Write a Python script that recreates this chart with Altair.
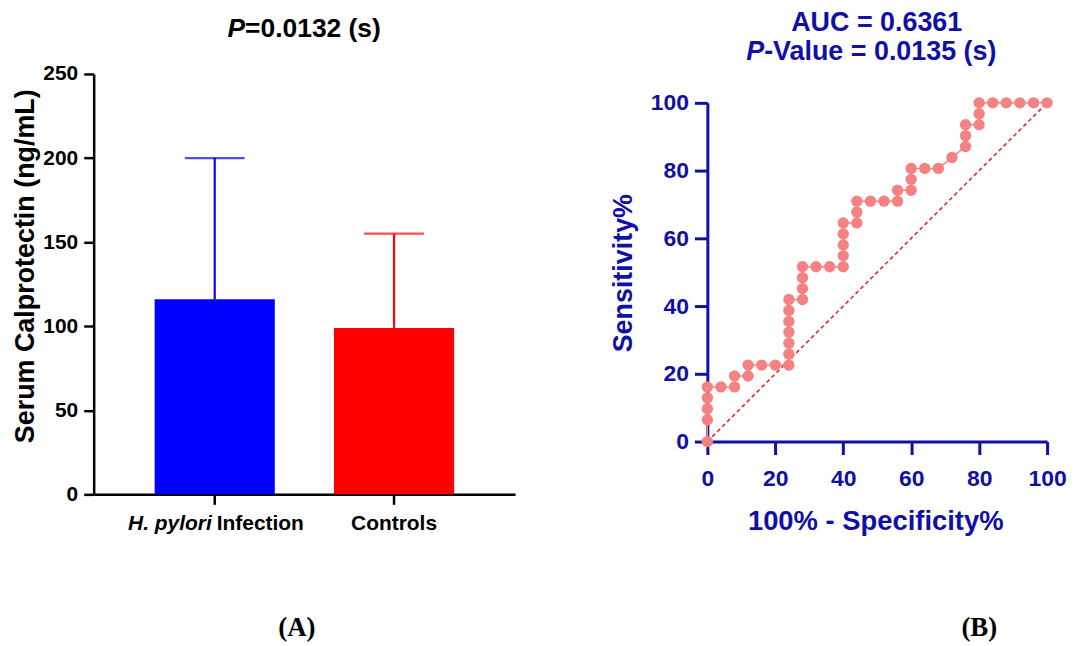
import altair as alt
import pandas as pd

# ---------------- Panel A data ----------------
groups = ["H. pylori Infection", "Controls"]
means = [116, 99]
upper = [200, 155]          # mean + SD (top of error bar)
bar_colors = ["#0000FF", "#FF0000"]
label_italic = ["H. pylori", ""]
label_roman = ["Infection", "Controls"]
y_ticks_a = [0, 50, 100, 150, 200, 250]

# ---------------- Panel B (ROC) data ----------------
fpr = [0, 0, 0, 0, 0, 4, 8, 8, 12, 12, 16, 20, 24, 24, 24, 24, 24, 24, 24,
       28, 28, 28, 28, 32, 36, 40, 40, 40, 40, 40, 44, 44, 44, 48, 52, 56, 56,
       60, 60, 60, 64, 68, 72, 76, 76, 76, 80, 80, 80, 84, 88, 92, 96, 100]
sens = [0, 6.45, 9.68, 12.90, 16.13, 16.13, 16.13, 19.35, 19.35, 22.58, 22.58,
        22.58, 22.58, 25.81, 29.03, 32.26, 35.48, 38.71, 41.94, 41.94, 45.16,
        48.39, 51.61, 51.61, 51.61, 51.61, 54.84, 58.06, 61.29, 64.52, 64.52,
        67.74, 70.97, 70.97, 70.97, 70.97, 74.19, 74.19, 77.42, 80.65, 80.65,
        80.65, 83.87, 87.10, 90.32, 93.55, 93.55, 96.77, 100, 100, 100, 100,
        100, 100]
diag_x = [0, 100]
diag_y = [0, 100]
roc_ticks = [0, 20, 40, 60, 80, 100]

title_a_italic = "P"
title_a_rest = "=0.0132 (s)"
ytitle_a = "Serum Calprotectin (ng/mL)"
title_b1 = "AUC = 0.6361"
title_b2_italic = "P"
title_b2_rest = "-Value = 0.0135 (s)"
xtitle_b = "100% - Specificity%"
ytitle_b = "Sensitivity%"
panel_labels = ["(A)", "(B)"]

FONT = "Liberation Sans"
SERIF = "Liberation Serif"
BLUE = "#1010A6"
ROC_COL = "#F58282"
DIAG_COL = "#E0282C"
W_A, H_A = 423, 422
W_B, H_B = 341, 369


def txt(s, x, y, size, color="black", align="center", italic=False,
        angle=None, font=FONT):
    kw = dict(align=align, baseline="alphabetic", fontSize=size,
              fontWeight="bold", font=font, color=color)
    if italic:
        kw["fontStyle"] = "italic"
    if angle is not None:
        kw["angle"] = angle
    return alt.Chart(pd.DataFrame({"t": [s]})).mark_text(**kw).encode(
        text="t:N", x=alt.value(x), y=alt.value(y))


# ---------------- Panel A ----------------
df_a = pd.DataFrame({"group": groups, "mean": means, "upper": upper,
                     "it": label_italic, "rm": label_roman})

x_a = alt.X("group:N", sort=groups,
            scale=alt.Scale(paddingInner=0.33, paddingOuter=0.34),
            axis=alt.Axis(title=None, labels=False, domainColor="black",
                          domainWidth=2.5, tickColor="black", tickWidth=2.5,
                          tickSize=10))
y_a = alt.Y("mean:Q", scale=alt.Scale(domain=[0, 250], nice=False),
            axis=alt.Axis(title=None, values=y_ticks_a, grid=False,
                          domainColor="black", domainWidth=2.5,
                          tickColor="black", tickWidth=2.5, tickSize=10,
                          labelFont=FONT, labelFontSize=21,
                          labelFontWeight="bold", labelColor="black",
                          labelPadding=6, labelFlush=False,
                          labelOverlap=False))
col_a = alt.Color("group:N", sort=groups,
                  scale=alt.Scale(domain=groups, range=bar_colors),
                  legend=None)

base_a = alt.Chart(df_a)
bars = base_a.mark_bar().encode(x=x_a, y=y_a, color=col_a)
err = base_a.mark_rule(strokeWidth=2.2).encode(
    x=alt.X("group:N", sort=groups), y="mean:Q", y2="upper:Q", color=col_a)
cap = base_a.mark_tick(size=60, thickness=2.2).encode(
    x=alt.X("group:N", sort=groups), y="upper:Q", color=col_a)

LAB_Y = H_A + 36
lab1 = base_a.transform_filter(alt.datum.group == groups[0]).mark_text(
    align="right", baseline="alphabetic", dx=-3, font=FONT, fontSize=21,
    fontWeight="bold", fontStyle="italic", color="black").encode(
    x=alt.X("group:N", sort=groups), y=alt.value(LAB_Y), text="it:N")
lab2 = base_a.transform_filter(alt.datum.group == groups[0]).mark_text(
    align="left", baseline="alphabetic", dx=2, font=FONT, fontSize=21,
    fontWeight="bold", color="black").encode(
    x=alt.X("group:N", sort=groups), y=alt.value(LAB_Y), text="rm:N")
lab3 = base_a.transform_filter(alt.datum.group == groups[1]).mark_text(
    align="center", baseline="alphabetic", font=FONT, fontSize=21,
    fontWeight="bold", color="black").encode(
    x=alt.X("group:N", sort=groups), y=alt.value(LAB_Y), text="rm:N")

panel_a = alt.layer(
    bars, err, cap, lab1, lab2, lab3,
    txt(title_a_italic, 152, -37, 26.5, align="right", italic=True),
    txt(title_a_rest, 152, -37, 26.5, align="left"),
    txt(ytitle_a, -60, 193, 27, angle=270),
    txt(panel_labels[0], 204, 564, 27, font=SERIF),
).properties(width=W_A, height=H_A)

# ---------------- Panel B ----------------
df_roc = pd.DataFrame({"fpr": fpr, "sens": sens, "idx": list(range(len(fpr)))})
df_diag = pd.DataFrame({"fpr": diag_x, "sens": diag_y})

axis_common = dict(grid=False, domainColor=BLUE, domainWidth=3,
                   tickColor=BLUE, tickWidth=3, tickSize=13,
                   labelFont=FONT, labelFontSize=23, labelFontWeight="bold",
                   labelColor=BLUE, labelFlush=False, labelOverlap=False,
                   values=roc_ticks, title=None)
x_b = alt.X("fpr:Q", scale=alt.Scale(domain=[0, 100], nice=False),
            axis=alt.Axis(labelPadding=31, labelBaseline="alphabetic",
                          **axis_common))
y_b = alt.Y("sens:Q",
            scale=alt.Scale(domain=[0, 100], range=[H_B, 29], nice=False),
            axis=alt.Axis(labelPadding=6, **axis_common))

diag = alt.Chart(df_diag).mark_line(
    color=DIAG_COL, strokeDash=[4, 3], strokeWidth=1.6).encode(x=x_b, y=y_b)
roc_line = alt.Chart(df_roc).mark_line(
    color=ROC_COL, strokeWidth=1.5).encode(x=x_b, y=y_b, order="idx:Q")
roc_pts = alt.Chart(df_roc).mark_circle(
    color=ROC_COL, size=130, opacity=1).encode(x=x_b, y=y_b)

panel_b = alt.layer(
    diag, roc_line, roc_pts,
    txt(title_b1, 170, -43, 27, color=BLUE),
    txt(title_b2_italic, 57, -14, 27, color=BLUE, align="right", italic=True),
    txt(title_b2_rest, 57, -14, 27, color=BLUE, align="left"),
    txt(ytitle_b, -76, 200, 27, color=BLUE, angle=270),
    txt(xtitle_b, 169, 458, 27.5, color=BLUE),
    txt(panel_labels[1], 273, 564, 27, font=SERIF),
).properties(width=W_B, height=H_B)

chart = alt.hconcat(panel_a, panel_b, spacing=193, bounds="flush").configure_view(
    stroke=None
).properties(padding={"left": 3, "top": 0, "right": 0, "bottom": 0})

chart.save("out.html", embed_options={"renderer": "svg", "actions": False})
